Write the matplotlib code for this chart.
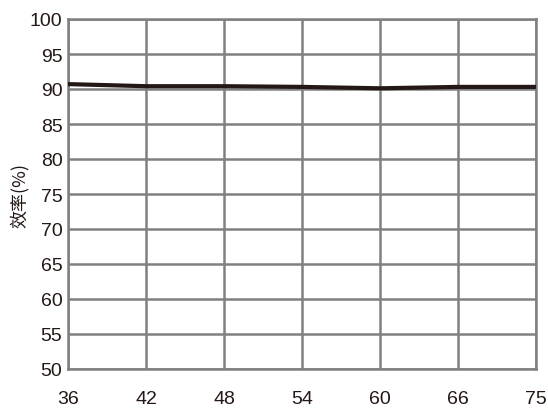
import matplotlib
matplotlib.use("Agg")
import matplotlib.pyplot as plt

x_labels = ["36", "42", "48", "54", "60", "66", "75"]
efficiency = [90.7, 90.4, 90.4, 90.3, 90.1, 90.3, 90.3]
y_ticks = list(range(50, 101, 5))

plt.rcParams['font.family'] = ['Liberation Sans', 'Noto Sans CJK SC', 'DejaVu Sans']

fig = plt.figure(figsize=(5.48, 4.10), dpi=100)
ax = fig.add_axes([68/548, 1-370/410, (536-68)/548, 350/410])

xs = list(range(len(x_labels)))
ax.plot(xs, efficiency, color="#231815", linewidth=3, solid_capstyle="butt", zorder=3)

ax.set_xlim(0, len(x_labels)-1)
ax.set_ylim(50, 100)
ax.set_xticks(xs)
ax.set_xticklabels(x_labels)
ax.set_yticks(y_ticks)
ax.grid(True, color="#808080", linewidth=1.8)
for s in ax.spines.values():
    s.set_color("#808080")
    s.set_linewidth(1.8)
ax.tick_params(length=0, labelsize=14, colors="#231815")
ax.tick_params(axis='x', pad=15)
ax.tick_params(axis='y', pad=4)
ax.set_ylabel("效率(%)", fontsize=13, family=['Noto Sans CJK SC', 'DejaVu Sans'], color="#231815", labelpad=1)

fig.savefig("out.png", dpi=100)
